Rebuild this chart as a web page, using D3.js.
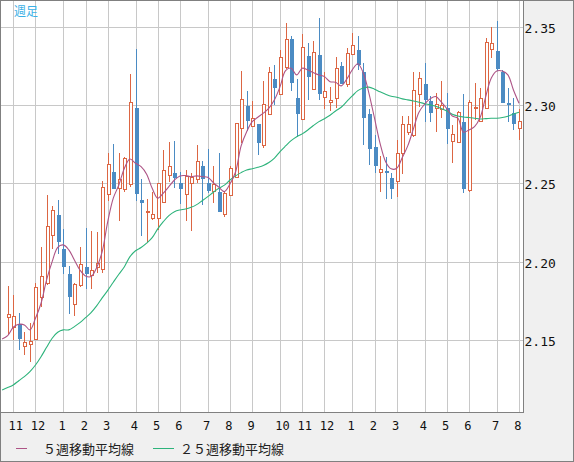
<!DOCTYPE html>
<html><head><meta charset="utf-8">
<script src="https://cdn.jsdelivr.net/npm/d3@7"></script>
<style>html,body{margin:0;padding:0;background:#f0f0f0;overflow:hidden}</style>
</head><body><svg id="c" width="574" height="462"></svg>
<script>
// ---- data ----
const title = "週足";
// first week is only partly in view: its candle is off the chart, only the averages show
const weekMonth = [10, 10,
 11,11,11,11, 12,12,12,12,12, 1,1,1,1, 2,2,2,2, 3,3,3,3,3, 4,4,4,4, 5,5,5,5, 6,6,6,6,6, 7,7,7,7, 8,8,8,8,
 9,9,9,9,9, 10,10,10,10, 11,11,11,11, 12,12,12,12,12, 1,1,1,1, 2,2,2,2, 3,3,3,3,3, 4,4,4,4, 5,5,5,5,
 6,6,6,6,6, 7,7,7,7, 8];
const open  = [null, 2.1647,2.1583,2.1602,2.1464,2.1476,2.1506,2.1774,2.1867,2.2169,2.2299,
 2.2080,2.1923,2.1729,2.1851,2.1965,2.1914,2.1969,2.1953,2.2433,2.2571,
 2.2469,2.2465,2.2495,2.2983,2.2393,2.2316,2.2278,2.2278,2.2384,2.2554,
 2.2567,2.2501,2.2431,2.2501,2.2527,2.2612,2.2501,2.2454,2.2444,2.2304,
 2.2425,2.2543,2.2852,2.2994,2.2867,2.2879,2.2744,2.2943,2.3167,2.3069,
 2.3241,2.3422,2.3045,2.2909,2.3313,2.3101,2.3320,2.3054,2.3022,2.3043,
 2.3249,2.3135,2.3326,2.3351,2.3213,2.2943,2.2731,2.2575,2.2580,2.2537,
 2.2516,2.2693,2.2827,2.2809,2.3069,2.3133,2.3026,2.2983,2.2975,2.2983,
 2.2771,2.2763,2.2890,2.2459,2.2983,2.2899,2.2980,2.3356,2.3345,2.3213,
 2.3013,2.2948,2.2852];
const high  = [null, 2.1846,2.1789,2.1672,2.1551,2.1608,2.1863,2.2093,2.2426,2.2358,2.2394,
 2.2207,2.1975,2.1867,2.2093,2.2214,2.2197,2.2193,2.2516,2.2693,2.2750,
 2.2693,2.2669,2.3198,2.3358,2.2527,2.2401,2.2448,2.2505,2.2714,2.2763,
 2.2771,2.2573,2.2586,2.2569,2.2746,2.2645,2.2720,2.2612,2.2696,2.2445,
 2.2612,2.2886,2.3218,2.3090,2.3026,2.2880,2.3156,2.3245,2.3256,2.3351,
 2.3526,2.3443,2.3167,2.3452,2.3398,2.3409,2.3557,2.3213,2.3114,2.3309,
 2.3277,2.3362,2.3462,2.3443,2.3267,2.2975,2.2809,2.2675,2.2671,2.2565,
 2.2777,2.2932,2.2932,2.3213,2.3213,2.3267,2.3058,2.3075,2.3154,2.3075,
 2.2873,2.2962,2.3069,2.3033,2.3139,2.3111,2.3426,2.3496,2.3536,2.3224,
 2.3111,2.3043,2.2975];
const low   = [null, 2.1534,2.1502,2.1438,2.1406,2.1360,2.1506,2.1710,2.1852,2.2080,2.2050,
 2.1921,2.1666,2.1657,2.1838,2.1827,2.1829,2.1927,2.1927,2.2390,2.2470,
 2.2263,2.2444,2.2480,2.2388,2.2165,2.2129,2.2267,2.2203,2.2378,2.2511,
 2.2469,2.2372,2.2261,2.2199,2.2505,2.2363,2.2438,2.2374,2.2316,2.2284,
 2.2425,2.2543,2.2760,2.2837,2.2862,2.2682,2.2724,2.2937,2.3001,2.3069,
 2.3228,2.3092,2.2798,2.2909,2.3033,2.3101,2.3033,2.2975,2.2964,2.2980,
 2.3135,2.3114,2.3326,2.3224,2.2746,2.2618,2.2565,2.2448,2.2401,2.2401,
 2.2416,2.2559,2.2809,2.2798,2.2990,2.2890,2.2894,2.2827,2.2916,2.2750,
 2.2629,2.2760,2.2438,2.2448,2.2905,2.2899,2.2980,2.3302,2.3217,2.3020,
 2.2890,2.2841,2.2777];
const close = [null, 2.1668,2.1655,2.1513,2.1487,2.1497,2.1838,2.1908,2.2228,2.2329,2.2135,
 2.1975,2.1784,2.1857,2.1984,2.1927,2.1946,2.1995,2.2480,2.2622,2.2473,
 2.2527,2.2661,2.3018,2.2441,2.2384,2.2327,2.2304,2.2501,2.2586,2.2612,
 2.2543,2.2473,2.2548,2.2540,2.2644,2.2537,2.2459,2.2495,2.2325,2.2438,
 2.2597,2.2884,2.3037,2.2905,2.2916,2.2767,2.3007,2.3209,2.3114,2.3305,
 2.3420,2.3149,2.2952,2.3369,2.3188,2.3337,2.3079,2.3090,2.3033,2.3235,
 2.3143,2.3330,2.3383,2.3260,2.2926,2.2728,2.2618,2.2592,2.2571,2.2469,
 2.2693,2.2878,2.2878,2.3094,2.3171,2.3039,2.2958,2.3009,2.3001,2.2852,
 2.2814,2.2958,2.2473,2.3022,2.2990,2.3047,2.3400,2.3394,2.3239,2.3022,
 2.3007,2.2884,2.2899];
const ma5   = [2.1508, 2.1529,2.1583,2.1602,2.1598,2.1566,2.1640,2.1736,2.1885,2.2001,2.2093,
 2.2108,2.2076,2.2012,2.1948,2.1910,2.1906,2.1963,2.2065,2.2256,2.2406,
 2.2490,2.2597,2.2656,2.2629,2.2607,2.2559,2.2469,2.2406,2.2438,2.2480,
 2.2522,2.2548,2.2550,2.2543,2.2548,2.2543,2.2540,2.2505,2.2476,2.2448,
 2.2497,2.2573,2.2739,2.2830,2.2894,2.2922,2.2948,2.2980,2.3033,2.3117,
 2.3219,2.3235,2.3192,2.3235,2.3224,2.3207,2.3192,2.3181,2.3149,2.3145,
 2.3122,2.3165,2.3224,2.3263,2.3203,2.3075,2.2916,2.2756,2.2639,2.2593,
 2.2597,2.2665,2.2741,2.2848,2.2954,2.3005,2.3039,2.3054,2.3020,2.2978,
 2.2930,2.2916,2.2827,2.2841,2.2862,2.2920,2.3052,2.3171,2.3217,2.3217,
 2.3192,2.3096,2.3011];
const ma25  = [2.1183, 2.1198,2.1215,2.1242,2.1268,2.1300,2.1342,2.1395,2.1455,2.1513,2.1551,
 2.1566,2.1566,2.1587,2.1612,2.1644,2.1676,2.1719,2.1770,2.1818,2.1870,
 2.1921,2.1969,2.2033,2.2071,2.2091,2.2119,2.2154,2.2210,2.2256,2.2295,
 2.2320,2.2331,2.2337,2.2348,2.2365,2.2390,2.2416,2.2444,2.2469,2.2489,
 2.2522,2.2548,2.2569,2.2586,2.2594,2.2603,2.2614,2.2633,2.2661,2.2703,
 2.2739,2.2773,2.2798,2.2816,2.2841,2.2869,2.2894,2.2913,2.2935,2.2962,
 2.2986,2.3022,2.3058,2.3092,2.3109,2.3114,2.3101,2.3084,2.3069,2.3056,
 2.3050,2.3039,2.3033,2.3026,2.3018,2.3009,2.3001,2.2992,2.2978,2.2962,
 2.2941,2.2930,2.2924,2.2920,2.2916,2.2911,2.2913,2.2916,2.2916,2.2920,
 2.2929,2.2943,2.2954];
const yTicks = [2.15, 2.20, 2.25, 2.30, 2.35];
const legendLabels = ["５週移動平均線", "２５週移動平均線"];

// ---- styles ----
const UP = "#dc6643", DOWN = "#4b8bc3", MA5C = "#ad5486", MA25C = "#2db37b", GRID = "#c8c8c8", FRAME = "#808080";

const svg = d3.select("#c");
const PL = 1, PT = 1, PR = 523, PB = 412;

svg.append("rect").attr("x",0.5).attr("y",0.5).attr("width",573).attr("height",461)
  .attr("fill","#f0f0f0").attr("stroke",FRAME);
svg.append("rect").attr("x",PL).attr("y",PT).attr("width",PR-PL).attr("height",PB-PT).attr("fill","#fff");

const idx = d3.range(weekMonth.length);
const x = d3.scalePoint().domain(idx).range([2.14, 519]);
const y = d3.scaleLinear().domain([2.10425, 2.36633]).range([PB, PT]);

svg.append("defs").append("clipPath").attr("id","clip").append("rect")
  .attr("x",PL).attr("y",PT).attr("width",PR-PL).attr("height",PB-PT);

const px = i => Math.round(x(i));

// grid
const g = svg.append("g");
yTicks.forEach(t => {
  const yy = Math.round(y(t)) + 0.5;
  g.append("line").attr("x1",PL).attr("x2",PR).attr("y1",yy).attr("y2",yy).attr("stroke",GRID);
});
const monthStarts = idx.filter(i => i > 0 && weekMonth[i] !== weekMonth[i-1]);
monthStarts.forEach(i => {
  const xx = px(i) + 0.5;
  g.append("line").attr("x1",xx).attr("x2",xx).attr("y1",PT).attr("y2",PB).attr("stroke",GRID);
});

// candles
const cg = svg.append("g").attr("clip-path","url(#clip)");
idx.filter(i => close[i] != null).forEach(i => {
  const up = close[i] >= open[i];
  const col = up ? UP : DOWN;
  const c = px(i);
  const yTop = Math.round(y(Math.max(open[i], close[i])));
  const yBot = Math.round(y(Math.min(open[i], close[i])));
  const yH = Math.round(y(high[i])), yL = Math.round(y(low[i]));
  cg.append("line").attr("x1",c+0.5).attr("x2",c+0.5).attr("y1",yH).attr("y2",yTop).attr("stroke",col);
  cg.append("line").attr("x1",c+0.5).attr("x2",c+0.5).attr("y1",yBot).attr("y2",yL).attr("stroke",col);
  if (up) {
    cg.append("rect").attr("x",c-0.5).attr("y",yTop+0.5).attr("width",3).attr("height",Math.max(1,yBot-yTop))
      .attr("fill","#fff").attr("stroke",col).attr("stroke-width",1);
  } else {
    cg.append("rect").attr("x",c-1).attr("y",yTop).attr("width",4).attr("height",Math.max(1,yBot-yTop+1))
      .attr("fill",col);
  }
});

// moving averages
const line = arr => d3.line().x((d,i) => x(i)).y(d => y(d)).curve(d3.curveCatmullRom.alpha(0.5))(arr);
cg.append("path").attr("d", line(ma25)).attr("fill","none").attr("stroke",MA25C).attr("stroke-width",1.1);
cg.append("path").attr("d", line(ma5)).attr("fill","none").attr("stroke",MA5C).attr("stroke-width",1.1);

// frame lines of plot
svg.append("line").attr("x1",PR+0.5).attr("x2",PR+0.5).attr("y1",0).attr("y2",PB+1).attr("stroke",FRAME);
svg.append("line").attr("x1",0).attr("x2",PR+1).attr("y1",PB+0.5).attr("y2",PB+0.5).attr("stroke",FRAME);

// title
svg.append("text").attr("x",14).attr("y",15.5).text(title)
  .attr("font-family","'Noto Sans CJK JP', sans-serif").attr("font-size",12).attr("fill","#3ab0e6");

// y axis labels
yTicks.forEach(t => {
  svg.append("text").attr("x",524.5).attr("y",Math.round(y(t))+5.5).text(t.toFixed(2))
    .attr("font-family","'DejaVu Sans Mono', monospace").attr("font-size",13).attr("fill","#111");
});

// x axis labels
monthStarts.forEach(i => {
  svg.append("text").attr("x",x(i)-4.8).attr("y",429.5).text(String(weekMonth[i]))
    .attr("font-family","'DejaVu Sans Mono', monospace").attr("font-size",12).attr("fill","#111");
});

// legend
const leg = [{x1:16,x2:27,tx:43,c:MA5C,t:legendLabels[0]},{x1:153,x2:174,tx:180,c:MA25C,t:legendLabels[1]}];
leg.forEach(l => {
  svg.append("line").attr("x1",l.x1).attr("x2",l.x2).attr("y1",448.5).attr("y2",448.5).attr("stroke",l.c);
  svg.append("text").attr("x",l.tx).attr("y",453.5).text(l.t)
    .attr("font-family","'Noto Sans CJK JP', sans-serif").attr("font-size",13).attr("fill","#222");
});
</script></body></html>
